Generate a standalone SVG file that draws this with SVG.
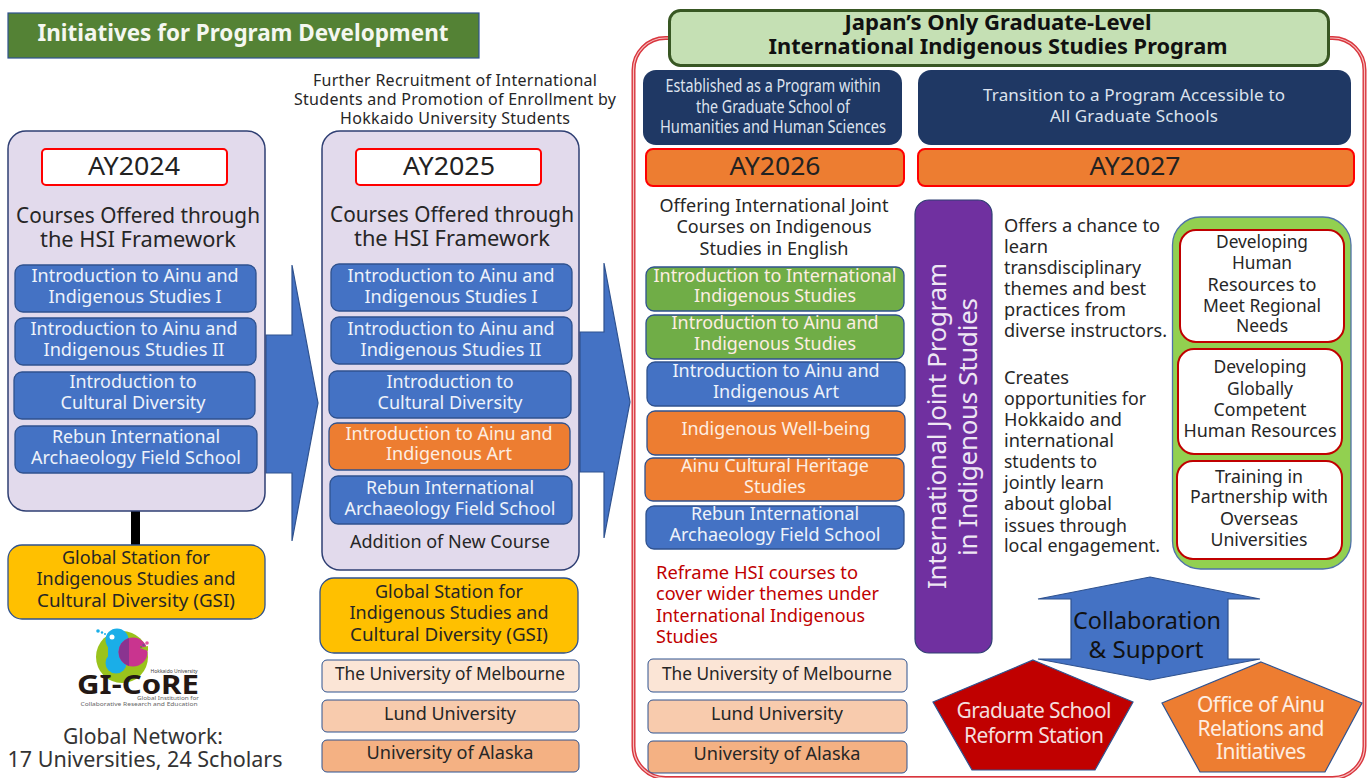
<svg xmlns="http://www.w3.org/2000/svg" width="1371" height="778" viewBox="0 0 1371 778">
<style>
text{font-family:"Noto Sans","Open Sans","DejaVu Sans",sans-serif;font-size:18px;fill:#262626;text-anchor:middle}
.w{fill:#eef2fa}.o{fill:#fdeee2}.b{fill:#111}.l{text-anchor:start}
.ay{font-size:25px;fill:#222}.h{font-size:22px}.r{fill:#c00000}
.course{stroke:#2f528f;stroke-width:1.3}
.blue{fill:#4472c4}.org{fill:#ed7d31}.grn{fill:#70ad47}
.gold{fill:#ffc000;stroke:#2f528f;stroke-width:1.3}
.panel{fill:#e2daec;stroke:#2f3f73;stroke-width:1.5}
.ayb{fill:#fff;stroke:#ff0000;stroke-width:2}
.ayo{fill:#ed7d31;stroke:#ff0000;stroke-width:2}
.navy{fill:#1f3864}
.u1{fill:#fbe5d6;stroke:#2f528f}.u2{fill:#f8cbad;stroke:#2f528f}.u3{fill:#f4b183;stroke:#2f528f}
.wb{fill:#fff;stroke:#c00000;stroke-width:2}
.shape{stroke:#2f528f;stroke-width:1.2}
</style>
<rect width="1371" height="778" fill="#fff"/>
<g id="connectors">
<path d="M131 511h9v34h-9z" fill="#000"/>
<path class="shape blue" d="M266 335H292V265L318 403L292 541V473H266Z"/>
<path class="shape blue" d="M580 332H604V263L630 402L604 538V472H580Z"/>
</g>
<g id="title-left">
<rect x="8" y="13" width="471" height="45" fill="#548235" stroke="#2f528f" stroke-width="1.2"/>
<text x="243" y="41" fill="#fff" style="font-size:23px;fill:#f4f7f0" font-weight="700" textLength="411" lengthAdjust="spacingAndGlyphs">Initiatives for Program Development</text>
</g>
<g id="col-2024">
<rect class="panel" x="8" y="131" width="257" height="380" rx="18"/>
<rect class="ayb" x="42" y="149" width="185" height="36" rx="4"/>
<text x="134" y="175" class="ay" textLength="92" lengthAdjust="spacingAndGlyphs">AY2024</text>
<text x="138" y="223" class="h" textLength="244" lengthAdjust="spacingAndGlyphs">Courses Offered through</text>
<text x="138" y="247" class="h" textLength="196" lengthAdjust="spacingAndGlyphs">the HSI Framework</text>
</g>
<g id="c24-1"><rect class="course blue" x="15" y="265" width="241" height="47" rx="8"/><text x="135" y="282" class="w" textLength="207" lengthAdjust="spacingAndGlyphs">Introduction to Ainu and</text><text x="135" y="303" class="w" textLength="173" lengthAdjust="spacingAndGlyphs">Indigenous Studies I</text></g>
<g id="c24-2"><rect class="course blue" x="15" y="318" width="241" height="47" rx="8"/><text x="134" y="335" class="w" textLength="207" lengthAdjust="spacingAndGlyphs">Introduction to Ainu and</text><text x="134" y="356" class="w" textLength="181" lengthAdjust="spacingAndGlyphs">Indigenous Studies II</text></g>
<g id="c24-3"><rect class="course blue" x="14" y="372" width="241" height="47" rx="8"/><text x="133" y="388" class="w" textLength="127" lengthAdjust="spacingAndGlyphs">Introduction to</text><text x="133" y="409" class="w" textLength="145" lengthAdjust="spacingAndGlyphs">Cultural Diversity</text></g>
<g id="c24-4"><rect class="course blue" x="15" y="426" width="242" height="47" rx="8"/><text x="136" y="443" class="w" textLength="168" lengthAdjust="spacingAndGlyphs">Rebun International</text><text x="136" y="464" class="w" textLength="210" lengthAdjust="spacingAndGlyphs">Archaeology Field School</text></g>
<g id="gsi-2024"><rect class="gold" x="8" y="545" width="257" height="74" rx="14"/><text x="136" y="564" textLength="148" lengthAdjust="spacingAndGlyphs">Global Station for</text><text x="136" y="585" textLength="199" lengthAdjust="spacingAndGlyphs">Indigenous Studies and</text><text x="136" y="607" textLength="198" lengthAdjust="spacingAndGlyphs">Cultural Diversity (GSI)</text></g>
<g id="logo">
<circle cx="122" cy="657" r="26" fill="#9ac31c"/>
<circle cx="117" cy="640" r="11.500" fill="#1aaee8"/>
<circle cx="116" cy="663" r="10.500" fill="#1aaee8"/>
<path d="M108 646h20l-6 14h-14z" fill="#1aaee8"/>
<circle cx="112" cy="637" r="2.500" fill="#fff"/>
<circle cx="133" cy="652" r="14.500" fill="#c9348f"/>
<path d="M129 638.100a14.500 14.500 0 0 0 0 27.800z" fill="#8a3490"/>
<path d="M140 648l8-2v5z" fill="#9ac31c"/>
<circle cx="98" cy="631" r="1.800" fill="#1aaee8"/><circle cx="102" cy="632.500" r="1.200" fill="#1aaee8"/><circle cx="105" cy="634" r="1" fill="#1aaee8"/>
<circle cx="147" cy="643" r="1.800" fill="#e0559f"/><circle cx="143.500" cy="645" r="1.200" fill="#7a4a90"/><circle cx="141" cy="647" r="1" fill="#5a9a2c"/>
<text x="138" y="694" font-weight="700" style="font-size:26px;fill:#231815" textLength="122" lengthAdjust="spacingAndGlyphs">GI-CoRE</text>
<text x="174" y="673" style="font-size:4.500px;fill:#444" textLength="47" lengthAdjust="spacingAndGlyphs">Hokkaido University</text>
<text x="168" y="700" style="font-size:4.500px;fill:#666" textLength="62" lengthAdjust="spacingAndGlyphs">Global Institution for</text>
<text x="139" y="706" style="font-size:4.800px;fill:#666" textLength="117" lengthAdjust="spacingAndGlyphs">Collaborative Research and Education</text>
</g>
<g id="network"><text x="143" y="744" class="h" style="fill:#333" textLength="160" lengthAdjust="spacingAndGlyphs">Global Network:</text><text x="145" y="767" class="h" style="fill:#333" textLength="275" lengthAdjust="spacingAndGlyphs">17 Universities, 24 Scholars</text></g>
<g id="recruit-note"><text x="455" y="86" style="font-size:16px" textLength="284" lengthAdjust="spacing">Further Recruitment of International</text><text x="455" y="105" style="font-size:16px" textLength="322" lengthAdjust="spacing">Students and Promotion of Enrollment by</text><text x="455" y="124" style="font-size:16px" textLength="230" lengthAdjust="spacing">Hokkaido University Students</text></g>
<g id="col-2025">
<rect class="panel" x="322" y="131" width="257" height="439" rx="18"/>
<rect class="ayb" x="356" y="149" width="185" height="36" rx="4"/>
<text x="449" y="175" class="ay" textLength="92" lengthAdjust="spacingAndGlyphs">AY2025</text>
<text x="452" y="222" class="h" textLength="244" lengthAdjust="spacingAndGlyphs">Courses Offered through</text>
<text x="452" y="246" class="h" textLength="196" lengthAdjust="spacingAndGlyphs">the HSI Framework</text>
<text x="450" y="548" textLength="200" lengthAdjust="spacingAndGlyphs">Addition of New Course</text>
</g>
<g id="c25-1"><rect class="course blue" x="331" y="264" width="241" height="47" rx="8"/><text x="451" y="282" class="w" textLength="207" lengthAdjust="spacingAndGlyphs">Introduction to Ainu and</text><text x="451" y="303" class="w" textLength="173" lengthAdjust="spacingAndGlyphs">Indigenous Studies I</text></g>
<g id="c25-2"><rect class="course blue" x="331" y="317" width="241" height="47" rx="8"/><text x="451" y="335" class="w" textLength="207" lengthAdjust="spacingAndGlyphs">Introduction to Ainu and</text><text x="451" y="356" class="w" textLength="181" lengthAdjust="spacingAndGlyphs">Indigenous Studies II</text></g>
<g id="c25-3"><rect class="course blue" x="329" y="371" width="242" height="47" rx="8"/><text x="450" y="388" class="w" textLength="127" lengthAdjust="spacingAndGlyphs">Introduction to</text><text x="450" y="409" class="w" textLength="145" lengthAdjust="spacingAndGlyphs">Cultural Diversity</text></g>
<g id="c25-4"><rect class="course org" x="329" y="423" width="241" height="47" rx="8"/><text x="449" y="440" class="o" textLength="207" lengthAdjust="spacingAndGlyphs">Introduction to Ainu and</text><text x="449" y="460" class="o" textLength="126" lengthAdjust="spacingAndGlyphs">Indigenous Art</text></g>
<g id="c25-5"><rect class="course blue" x="330" y="476" width="242" height="48" rx="8"/><text x="450" y="494" class="w" textLength="168" lengthAdjust="spacingAndGlyphs">Rebun International</text><text x="450" y="515" class="w" textLength="211" lengthAdjust="spacingAndGlyphs">Archaeology Field School</text></g>
<g id="gsi-2025"><rect class="gold" x="320" y="578" width="258" height="75" rx="14"/><text x="449" y="598" textLength="148" lengthAdjust="spacingAndGlyphs">Global Station for</text><text x="449" y="619" textLength="199" lengthAdjust="spacingAndGlyphs">Indigenous Studies and</text><text x="449" y="641" textLength="198" lengthAdjust="spacingAndGlyphs">Cultural Diversity (GSI)</text></g>
<g id="u25-1"><rect class="u1" x="322" y="660" width="257" height="32" rx="5"/><text x="450" y="680" textLength="230" lengthAdjust="spacingAndGlyphs">The University of Melbourne</text></g>
<g id="u25-2"><rect class="u2" x="322" y="700" width="257" height="32" rx="5"/><text x="450" y="720" textLength="132" lengthAdjust="spacingAndGlyphs">Lund University</text></g>
<g id="u25-3"><rect class="u3" x="322" y="740" width="257" height="32" rx="5"/><text x="450" y="759" textLength="167" lengthAdjust="spacingAndGlyphs">University of Alaska</text></g>
<g id="frame">
<rect x="633.500" y="38" width="731" height="740" rx="32" fill="#fff" stroke="#d9363e" stroke-width="4"/>
<rect x="633.500" y="38" width="731" height="740" rx="32" fill="none" stroke="#f6c0c0" stroke-width="1.200"/>
</g>
<g id="title-right"><rect x="669.500" y="10.500" width="659" height="55" rx="11" fill="#c5e0b4" stroke="#385723" stroke-width="3"/>
<text x="998" y="30" class="b" font-weight="700" style="font-size:22px" textLength="307" lengthAdjust="spacingAndGlyphs">Japan’s Only Graduate-Level</text>
<text x="998" y="54" class="b" font-weight="700" style="font-size:22px" textLength="459" lengthAdjust="spacingAndGlyphs">International Indigenous Studies Program</text></g>
<g id="est"><rect class="navy" x="643" y="70" width="259" height="75" rx="13"/><text x="773" y="92" style="fill:#dde3ee" textLength="215" lengthAdjust="spacingAndGlyphs">Established as a Program within</text><text x="773" y="113" style="fill:#dde3ee" textLength="154" lengthAdjust="spacingAndGlyphs">the Graduate School of</text><text x="773" y="133" style="fill:#dde3ee" textLength="226" lengthAdjust="spacingAndGlyphs">Humanities and Human Sciences</text></g>
<g id="trans"><rect class="navy" x="918" y="70" width="433" height="75" rx="13"/><text x="1134" y="101" style="fill:#dde3ee;font-size:17px" textLength="302" lengthAdjust="spacing">Transition to a Program Accessible to</text><text x="1134" y="122" style="fill:#dde3ee;font-size:17px" textLength="168" lengthAdjust="spacing">All Graduate Schools</text></g>
<g id="ay2026"><rect class="ayo" x="646" y="149" width="258" height="37" rx="7"/><text x="775" y="175" class="ay" textLength="91" lengthAdjust="spacingAndGlyphs">AY2026</text></g>
<g id="ay2027"><rect class="ayo" x="918" y="149" width="436" height="37" rx="7"/><text x="1135" y="175" class="ay" textLength="91" lengthAdjust="spacingAndGlyphs">AY2027</text></g>
<g id="offering"><text x="774" y="212" textLength="229" lengthAdjust="spacingAndGlyphs">Offering International Joint</text><text x="774" y="233" textLength="195" lengthAdjust="spacingAndGlyphs">Courses on Indigenous</text><text x="774" y="255" textLength="149" lengthAdjust="spacingAndGlyphs">Studies in English</text></g>
<g id="c26-1"><rect class="course grn" x="646" y="267" width="258" height="44" rx="8"/><text x="775" y="282" class="o" textLength="243" lengthAdjust="spacingAndGlyphs">Introduction to International</text><text x="775" y="302" class="o" textLength="162" lengthAdjust="spacingAndGlyphs">Indigenous Studies</text></g>
<g id="c26-2"><rect class="course grn" x="646" y="315" width="258" height="44" rx="8"/><text x="775" y="329" class="o" textLength="207" lengthAdjust="spacingAndGlyphs">Introduction to Ainu and</text><text x="775" y="350" class="o" textLength="162" lengthAdjust="spacingAndGlyphs">Indigenous Studies</text></g>
<g id="c26-3"><rect class="course blue" x="647" y="362" width="258" height="44" rx="8"/><text x="776" y="377" class="w" textLength="207" lengthAdjust="spacingAndGlyphs">Introduction to Ainu and</text><text x="776" y="398" class="w" textLength="126" lengthAdjust="spacingAndGlyphs">Indigenous Art</text></g>
<g id="c26-4"><rect class="course org" x="647" y="411" width="258" height="44" rx="8"/><text x="776" y="435" class="o" textLength="189" lengthAdjust="spacingAndGlyphs">Indigenous Well-being</text></g>
<g id="c26-5"><rect class="course org" x="645" y="458" width="259" height="43" rx="8"/><text x="775" y="472" class="o" textLength="188" lengthAdjust="spacingAndGlyphs">Ainu Cultural Heritage</text><text x="775" y="493" class="o" textLength="62" lengthAdjust="spacingAndGlyphs">Studies</text></g>
<g id="c26-6"><rect class="course blue" x="646" y="506" width="258" height="43" rx="8"/><text x="775" y="520" class="w" textLength="168" lengthAdjust="spacingAndGlyphs">Rebun International</text><text x="775" y="541" class="w" textLength="211" lengthAdjust="spacingAndGlyphs">Archaeology Field School</text></g>
<g id="reframe"><text x="656" y="579" class="l r" textLength="202" lengthAdjust="spacingAndGlyphs">Reframe HSI courses to</text><text x="656" y="600" class="l r" textLength="223" lengthAdjust="spacingAndGlyphs">cover wider themes under</text><text x="656" y="622" class="l r" textLength="209" lengthAdjust="spacingAndGlyphs">International Indigenous</text><text x="656" y="643" class="l r" textLength="62" lengthAdjust="spacingAndGlyphs">Studies</text></g>
<g id="u26-1"><rect class="u1" x="648" y="659" width="259" height="33" rx="5"/><text x="777" y="680" textLength="230" lengthAdjust="spacingAndGlyphs">The University of Melbourne</text></g>
<g id="u26-2"><rect class="u2" x="648" y="700" width="259" height="33" rx="5"/><text x="777" y="720" textLength="132" lengthAdjust="spacingAndGlyphs">Lund University</text></g>
<g id="u26-3"><rect class="u3" x="648" y="741" width="259" height="32" rx="5"/><text x="777" y="760" textLength="167" lengthAdjust="spacingAndGlyphs">University of Alaska</text></g>
<g id="joint"><rect x="915" y="200" width="77" height="453" rx="14" fill="#7030a0" stroke="#2f3f73" stroke-width="1.2"/>
<text transform="translate(946 426) rotate(-90)" style="font-size:26px;fill:#eee6f4" textLength="326" lengthAdjust="spacing">International Joint Program</text>
<text transform="translate(977 427) rotate(-90)" style="font-size:26px;fill:#eee6f4" textLength="258" lengthAdjust="spacing">in Indigenous Studies</text></g>
<g id="offers"><text x="1004" y="232" class="l" textLength="156" lengthAdjust="spacingAndGlyphs">Offers a chance to</text><text x="1004" y="253" class="l" textLength="44" lengthAdjust="spacingAndGlyphs">learn</text><text x="1004" y="274" class="l" textLength="137" lengthAdjust="spacingAndGlyphs">transdisciplinary</text><text x="1004" y="295" class="l" textLength="142" lengthAdjust="spacingAndGlyphs">themes and best</text><text x="1004" y="316" class="l" textLength="122" lengthAdjust="spacingAndGlyphs">practices from</text><text x="1004" y="337" class="l" textLength="163" lengthAdjust="spacingAndGlyphs">diverse instructors.</text></g>
<g id="creates"><text x="1004" y="384" class="l" textLength="65" lengthAdjust="spacingAndGlyphs">Creates</text><text x="1004" y="405" class="l" textLength="142" lengthAdjust="spacingAndGlyphs">opportunities for</text><text x="1004" y="426" class="l" textLength="118" lengthAdjust="spacingAndGlyphs">Hokkaido and</text><text x="1004" y="447" class="l" textLength="110" lengthAdjust="spacingAndGlyphs">international</text><text x="1004" y="468" class="l" textLength="93" lengthAdjust="spacingAndGlyphs">students to</text><text x="1004" y="489" class="l" textLength="100" lengthAdjust="spacingAndGlyphs">jointly learn</text><text x="1004" y="510" class="l" textLength="108" lengthAdjust="spacingAndGlyphs">about global</text><text x="1004" y="532" class="l" textLength="123" lengthAdjust="spacingAndGlyphs">issues through</text><text x="1004" y="552" class="l" textLength="156" lengthAdjust="spacingAndGlyphs">local engagement.</text></g>
<g id="goals"><rect x="1172.500" y="217" width="178.500" height="352" rx="28" fill="#92d050" stroke="#4f72a8" stroke-width="1.3"/></g>
<g id="g1"><rect class="wb" x="1180" y="230" width="164" height="112" rx="16"/><text x="1262" y="248" textLength="92" lengthAdjust="spacingAndGlyphs">Developing</text><text x="1262" y="269" textLength="60" lengthAdjust="spacingAndGlyphs">Human</text><text x="1262" y="291" textLength="109" lengthAdjust="spacingAndGlyphs">Resources to</text><text x="1262" y="312" textLength="118" lengthAdjust="spacingAndGlyphs">Meet Regional</text><text x="1262" y="332" textLength="52" lengthAdjust="spacingAndGlyphs">Needs</text></g>
<g id="g2"><rect class="wb" x="1178" y="349" width="164" height="105" rx="16"/><text x="1260" y="373" textLength="93" lengthAdjust="spacingAndGlyphs">Developing</text><text x="1260" y="395" textLength="66" lengthAdjust="spacingAndGlyphs">Globally</text><text x="1260" y="416" textLength="93" lengthAdjust="spacingAndGlyphs">Competent</text><text x="1260" y="437" textLength="153" lengthAdjust="spacingAndGlyphs">Human Resources</text></g>
<g id="g3"><rect class="wb" x="1177" y="461" width="165" height="98" rx="16"/><text x="1259" y="483" textLength="88" lengthAdjust="spacingAndGlyphs">Training in</text><text x="1259" y="503" textLength="138" lengthAdjust="spacingAndGlyphs">Partnership with</text><text x="1259" y="525" textLength="78" lengthAdjust="spacingAndGlyphs">Overseas</text><text x="1259" y="546" textLength="97" lengthAdjust="spacingAndGlyphs">Universities</text></g>
<g id="collab"><path class="shape blue" d="M1150 577L1260 599H1228V659H1260L1150 680L1038 659H1071V599H1038Z"/><text x="1147" y="629" class="b" style="font-size:24px" textLength="148" lengthAdjust="spacingAndGlyphs">Collaboration</text><text x="1146" y="658" class="b" style="font-size:24px" textLength="115" lengthAdjust="spacingAndGlyphs">&amp; Support</text></g>
<g id="reform"><path class="shape" fill="#c00000" d="M1033 660L1133 702L1095 770H972L933 702Z"/><text x="1034" y="718" style="font-size:21px;fill:#f4dede" textLength="155" lengthAdjust="spacing">Graduate School</text><text x="1034" y="743" style="font-size:21px;fill:#f4dede" textLength="140" lengthAdjust="spacing">Reform Station</text></g>
<g id="ainu"><path class="shape org" d="M1261 662L1362 703L1325 772H1200L1162 703Z"/><text x="1261" y="712" style="font-size:21px;fill:#fdeee2" textLength="128" lengthAdjust="spacing">Office of Ainu</text><text x="1261" y="736" style="font-size:21px;fill:#fdeee2" textLength="127" lengthAdjust="spacing">Relations and</text><text x="1261" y="759" style="font-size:21px;fill:#fdeee2" textLength="90" lengthAdjust="spacing">Initiatives</text></g>
</svg>
